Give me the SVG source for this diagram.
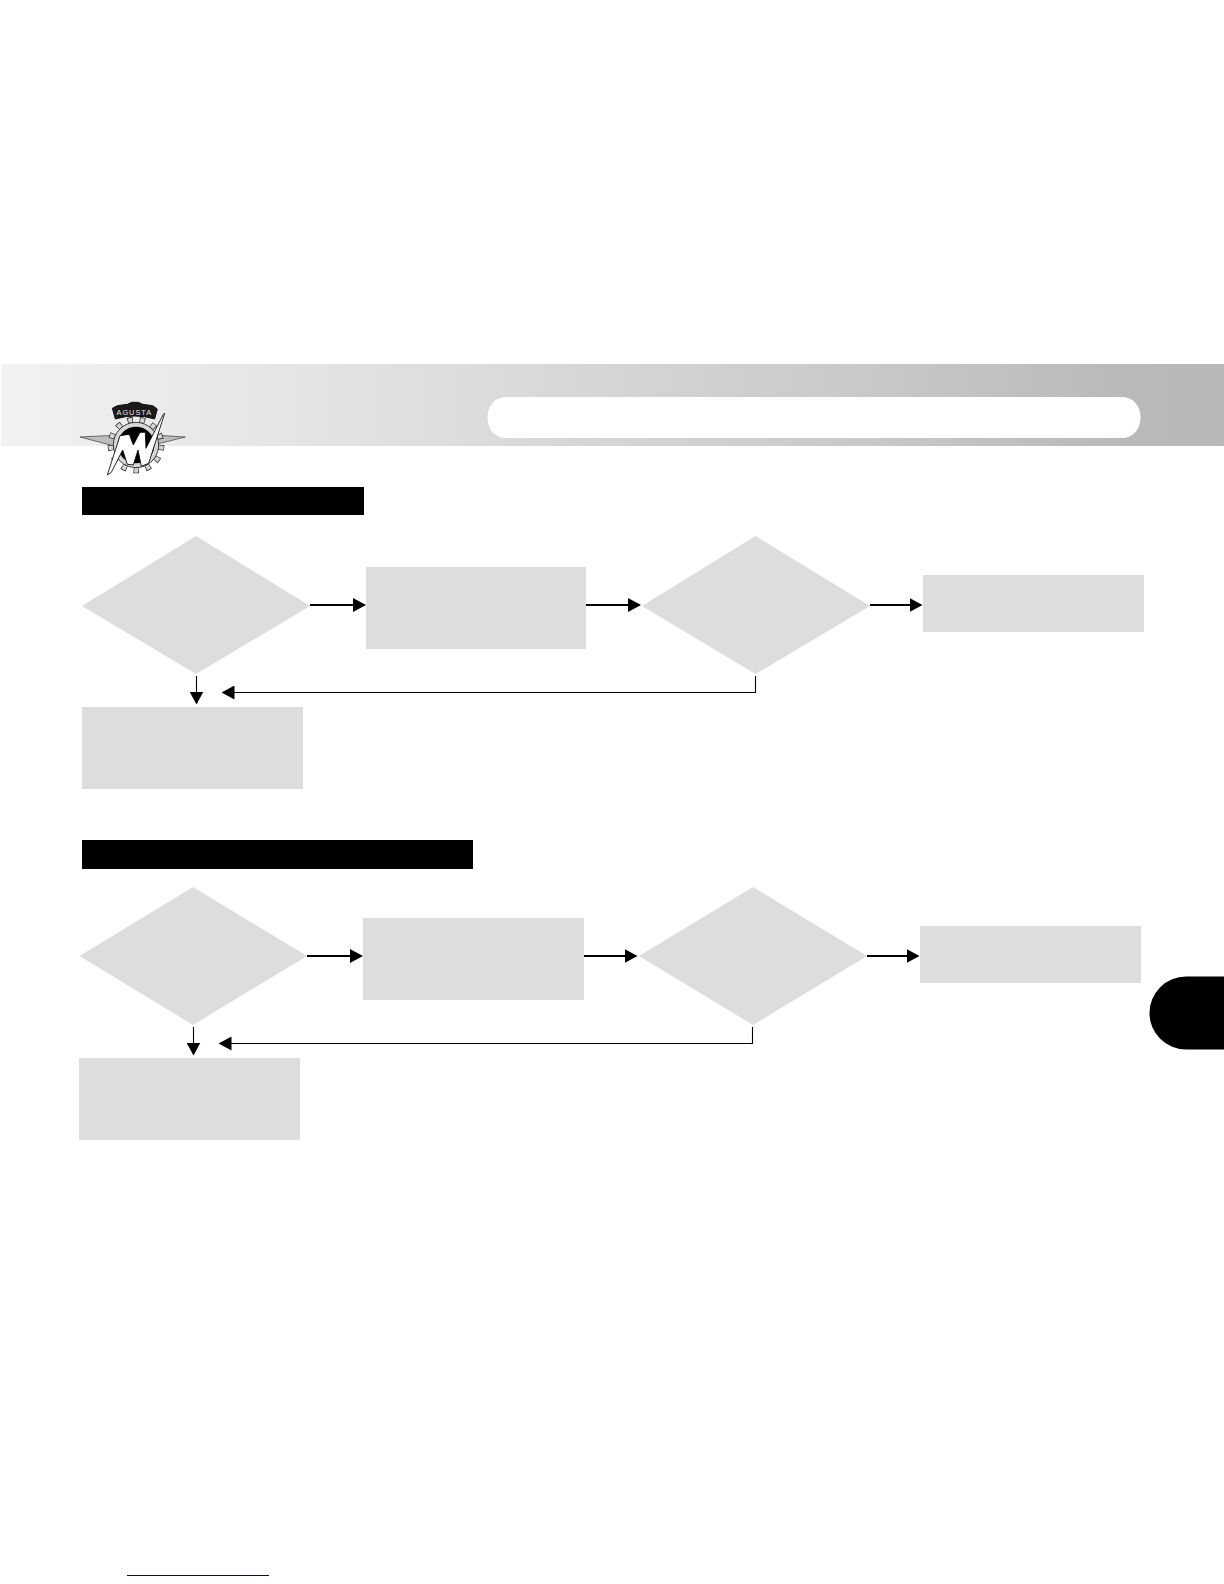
<svg xmlns="http://www.w3.org/2000/svg" width="1224" height="1584" viewBox="0 0 1224 1584">
<style>
.n{fill:#dddddd}
.b{fill:#000}
.thick{fill:none;stroke:#000;stroke-width:2}
.thin{fill:none;stroke:#000;stroke-width:1.1}
</style>
<defs>
<linearGradient id="band" x1="0" y1="0" x2="1" y2="0">
<stop offset="0" stop-color="#f2f2f2"/>
<stop offset="0.33" stop-color="#dfdfdf"/>
<stop offset="0.7" stop-color="#c9c9c9"/>
<stop offset="0.92" stop-color="#b9b9b9"/>
<stop offset="1" stop-color="#b8b8b8"/>
</linearGradient>
<marker id="ah" markerUnits="userSpaceOnUse" viewBox="0 0 13 14" refX="11.5" refY="7" markerWidth="13" markerHeight="14" orient="auto"><path d="M0 0L13 7L0 14Z" fill="#000"/></marker>
</defs>
<rect width="1224" height="1584" fill="#fff"/>
<g id="header">
<rect x="1" y="364" width="1223" height="82" fill="url(#band)"/>
<rect x="487.500" y="397" width="653" height="41" rx="18" ry="20" fill="#fff"/>
</g>
<g id="logo" transform="translate(70 395) scale(.3333)">
<path d="M30 126L150 120L250 120L346 126L250 150L140 155Z" fill="#bdbdbd" stroke="#333" stroke-width="2"/>
<circle cx="198" cy="150" r="76" fill="none" stroke="#222" stroke-width="18" stroke-dasharray="16 20.700"/>
<circle cx="198" cy="150" r="76" fill="none" stroke="#d4d4d4" stroke-width="14" stroke-dasharray="12 24.700" stroke-dashoffset="-2"/>
<circle cx="198" cy="150" r="68" fill="#d8d8d8" stroke="#222" stroke-width="2.500"/>
<circle cx="198" cy="150" r="55" fill="#000"/>
<path d="M127 40L142 32L172 28L185 22L205 22L218 28L248 32L262 42L254 72Q195 54 136 72Z" fill="#1a1a1a" stroke="#111" stroke-width="3"/>
<text x="193" y="60" text-anchor="middle" font-family="'Liberation Sans',Arial,sans-serif" font-size="22" fill="#e8e8e8" letter-spacing="3">AGUSTA</text>
<path d="M112 240L150 122L178 118L190 150L210 112L226 112L228 160L280 58L284 55L236 205L214 214L204 165L190 210L172 208L158 165L124 232Z" fill="#fff" stroke="#000" stroke-width="2.500" stroke-linejoin="round"/>
</g>
<g id="title-1"><rect class="b" x="82" y="487" width="282" height="28"/></g>
<g id="title-2"><rect class="b" x="82" y="840" width="391" height="29"/></g>
<g id="decision-1a"><polygon class="n" points="196,536 310,606 196,674 82,606"/></g>
<g id="step-1a"><rect class="n" x="366" y="567" width="220" height="82"/></g>
<g id="decision-1b"><polygon class="n" points="755.5,536 870,606 755.5,674 642,606"/></g>
<g id="step-1b"><rect class="n" x="923" y="575" width="221" height="57"/></g>
<g id="step-1c"><rect class="n" x="82" y="707" width="221" height="82"/></g>
<g id="decision-2a"><polygon class="n" points="193,887 307,956 193,1025 79.5,956"/></g>
<g id="step-2a"><rect class="n" x="363" y="918" width="221" height="82"/></g>
<g id="decision-2b"><polygon class="n" points="753,887 867,956 753,1025 639,956"/></g>
<g id="step-2b"><rect class="n" x="920" y="926" width="221" height="57"/></g>
<g id="step-2c"><rect class="n" x="79" y="1058" width="221" height="82"/></g>
<g id="connectors">
<path class="thick" d="M310 605H364.500" marker-end="url(#ah)"/>
<path class="thick" d="M586 605H639.500" marker-end="url(#ah)"/>
<path class="thick" d="M870 605H921" marker-end="url(#ah)"/>
<path class="thin" d="M196.500 676V703" marker-end="url(#ah)"/>
<path class="thin" d="M755.500 676V692.500H223" marker-end="url(#ah)"/>
<path class="thick" d="M307 956H361.500" marker-end="url(#ah)"/>
<path class="thick" d="M584 956H636" marker-end="url(#ah)"/>
<path class="thick" d="M867 956H918" marker-end="url(#ah)"/>
<path class="thin" d="M193.500 1027V1054" marker-end="url(#ah)"/>
<path class="thin" d="M752.500 1027V1043.500H220" marker-end="url(#ah)"/>
</g>
<g id="tab"><path class="b" d="M1224 976.500H1186A36.500 36.500 0 0 0 1186 1049.500H1224Z"/></g>
<g id="footer-rule"><rect x="127" y="1575" width="142" height="1" fill="#00008b"/></g>
</svg>
